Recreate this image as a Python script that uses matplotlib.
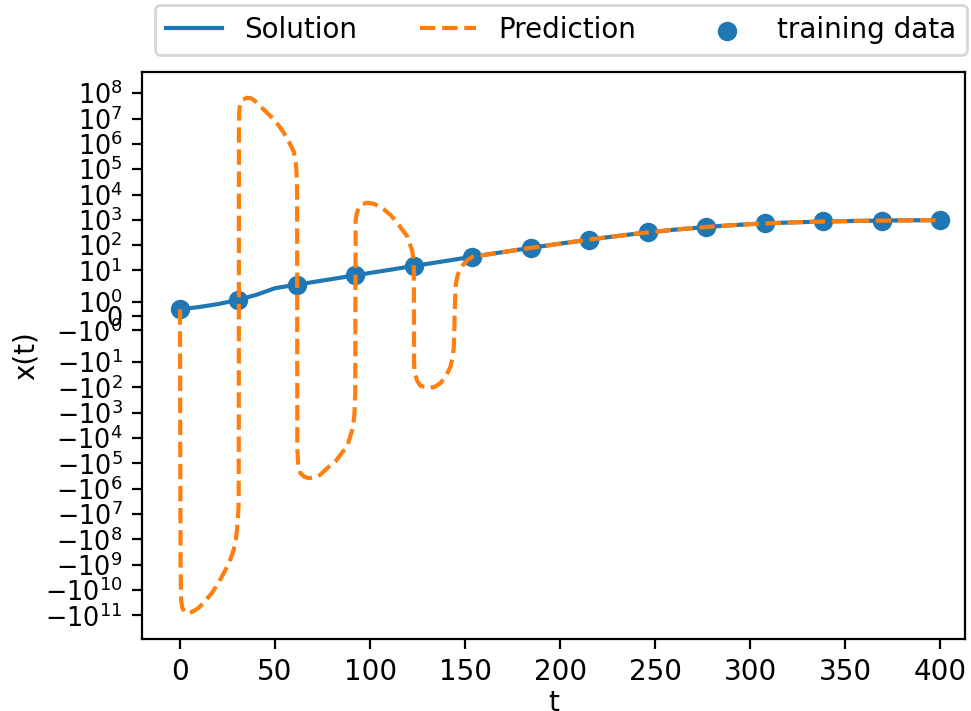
import matplotlib
matplotlib.use("Agg")
import matplotlib.pyplot as plt

# Exact solution
sol_t = [0, 10, 20, 30, 40, 50, 60, 70, 80, 90, 100, 110, 120, 130, 140, 150,
         160, 170, 180, 190, 200, 220, 240, 260, 280, 300, 320, 340, 360, 380, 400]
sol_x = [0.5, 0.66, 0.87, 1.15, 1.52, 2.0, 2.65, 3.49, 4.6, 6.07, 8.0, 10.5, 13.9,
         18.2, 23.9, 31.4, 41.0, 53.4, 69.3, 89.6, 115, 185, 283, 408, 545, 677,
         785, 864, 917, 951, 971]

# Training data
train_t = [0.0, 30.77, 61.54, 92.31, 123.08, 153.85, 184.62, 215.38, 246.15,
           276.92, 307.69, 338.46, 369.23, 400.0]
train_x = [0.5, 1.18, 2.76, 6.47, 15.1, 34.7, 78.1, 166, 319, 524, 722, 859, 935, 971]

# Model prediction
pred_t = [0.0, 0.15, 0.3, 0.6, 1.2, 2.2, 3.7, 5.5, 7.5, 9.8, 13.0, 16.8, 20.5, 23.9,
          26.5, 28.2, 29.4, 30.0, 30.5, 30.85, 30.95, 31.0, 31.1, 31.4, 31.9, 33.0,
          35.3, 37.5, 40.0, 43.2, 46.5, 50.2, 53.5, 56.3, 58.3, 59.8, 60.8, 61.3,
          61.6, 61.7, 61.8, 62.2, 63.3, 65.5, 67.7, 70.5, 73.5, 76.5, 79.0, 81.8,
          85.0, 87.9, 89.5, 90.6, 91.4, 91.8, 92.2, 92.4, 93.0, 94.1, 96.0, 98.5,
          102.0, 107.2, 111.0, 114.3, 117.0, 119.5, 121.0, 122.2, 122.8, 123.0,
          123.05, 123.15, 123.3, 124.0, 124.8, 126.5, 130.0, 134.0, 137.1, 140.0,
          142.3, 143.5, 144.1, 144.4, 144.6, 145.0, 145.9, 147.0, 148.5, 151.0,
          153.85, 160, 170, 180, 190, 200, 220, 240, 260, 280, 300, 320, 340, 360,
          380, 400]
pred_x = [0.5, -1e5, -1e9, -2.5e10, -5e10, -7.2e10, -8.2e10, -7.6e10, -6.5e10,
          -5.0e10, -2.8e10, -1.3e10, -4.8e9, -1.6e9, -6e8, -2.6e8, -1e8, -4e7,
          -1.2e7, -4e6, -1e3, 3e6, 1.5e7, 2.8e7, 4e7, 5.6e7, 6.6e7, 6.3e7, 4.5e7,
          2.6e7, 1.5e7, 8e6, 3.6e6, 1.74e6, 8.5e5, 5.1e5, 2.2e5, 8e4, 1.3e4, -1e4,
          -3e4, -1.2e5, -2.4e5, -3.4e5, -3.8e5, -3.6e5, -2.9e5, -1.8e5, -1.2e5,
          -8.3e4, -4e4, -2.1e4, -9e3, -4.7e3, -2e3, -1e3, -150, 1e3, 1.8e3, 3.0e3,
          4.2e3, 4.7e3, 4.3e3, 2.6e3, 1.5e3, 760, 400, 225, 110, 57, 25, 12, 2,
          -10, -20, -35, -55, -85, -105, -95, -66, -35, -15, -6, -2.4, -0.5, 0.7,
          2.5, 5.9, 10, 15, 25, 34.7, 41.0, 53.4, 69.3, 89.6, 115, 185, 283, 408,
          545, 677, 785, 864, 917, 951, 971]

fig = plt.figure(figsize=(971 / 200, 711 / 200), dpi=200)
ax = fig.add_axes([142 / 971, 1 - 639 / 711, (965 - 142) / 971, (639 - 72) / 711])

ax.plot(sol_t, sol_x, color="tab:blue", label="Solution")
ax.plot(pred_t, pred_x, color="tab:orange", linestyle="--", label="Prediction")
ax.scatter(train_t, train_x, color="tab:blue", label="training data")

ax.set_yscale("symlog")
ax.set_xlim(-20, 413)
ax.set_xticks([0, 50, 100, 150, 200, 250, 300, 350, 400])
ax.tick_params(axis="y", labelsize=9.2)
ax.set_xlabel("t", labelpad=1)
ax.set_ylabel("x(t)", labelpad=2)

fig.legend(loc="lower left", ncol=3, mode="expand", borderaxespad=0,
           bbox_to_anchor=(155 / 971, 1 - 55 / 711, (967 - 155) / 971, 0.05))

fig.savefig("out.png", dpi=200)
